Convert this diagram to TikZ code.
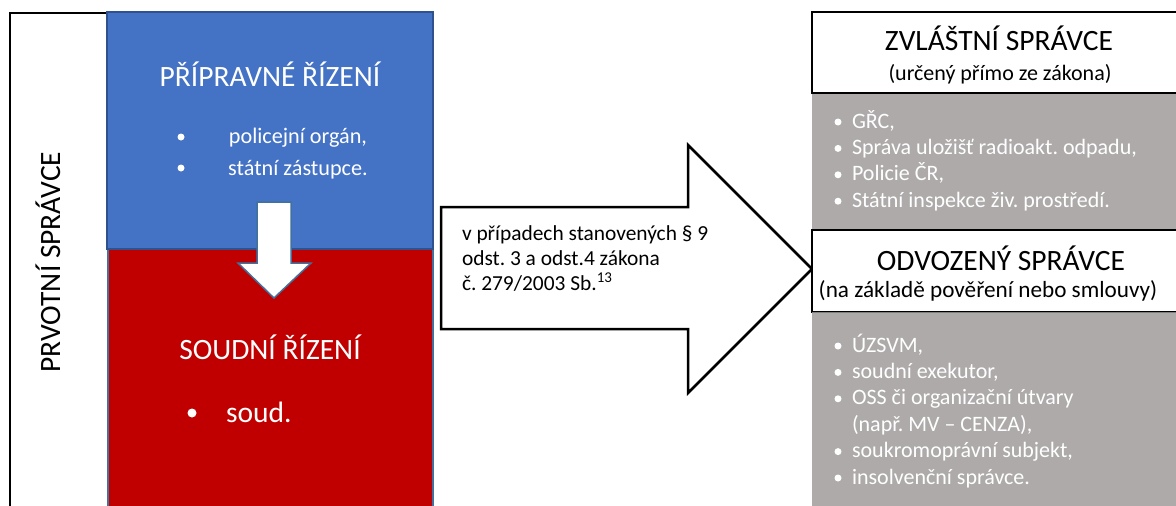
\documentclass[tikz,border=0pt]{standalone}
\usepackage{fontspec}
\setmainfont{Carlito}
\frenchspacing
\definecolor{bluebox}{RGB}{68,114,196}
\definecolor{blueedge}{RGB}{47,82,143}
\definecolor{slate}{RGB}{65,113,156}
\definecolor{redbox}{RGB}{192,0,0}
\definecolor{greybox}{RGB}{174,170,170}
\definecolor{greyedge}{RGB}{127,127,127}
\tikzset{
  txt/.style={inner sep=0pt, outer sep=0pt},
  head/.style={txt, font=\fontsize{29.5pt}{35pt}\selectfont},
  sub/.style={txt, font=\fontsize{22pt}{26pt}\selectfont},
  item/.style={txt, font=\fontsize{22pt}{26pt}\selectfont, text=white, anchor=base west},
  bul/.style={circle, fill=white, inner sep=0pt, minimum size=7pt},
  bigbul/.style={circle, fill=white, inner sep=0pt, minimum size=9pt},
  midtxt/.style={txt, font=\fontsize{21.4pt}{25pt}\selectfont, anchor=base west},
}
\begin{document}
\begin{tikzpicture}[x=1pt,y=-1pt]
\useasboundingbox (0,0) rectangle (1176,506);
% left frame
\draw[greyedge, line width=1pt] (107,13) -- (107,520);
\draw[black, line width=2pt] (10,520) -- (10,13) -- (107,13);
\node[head, rotate=90, anchor=base] (prv) at (60,262) {PRVOTNÍ SPRÁVCE};
% red and blue boxes
\draw[slate, line width=2pt, fill=redbox] (108,249) rectangle (433,520);
\draw[blueedge, line width=1.5pt, fill=bluebox] (107,12) rectangle (433,249);
% down arrow
\draw[slate, line width=1.5pt, fill=white]
  (257,202) -- (291,202) -- (291,263) -- (311,263) -- (274,298) -- (238,263) -- (257,263) -- cycle;
\node[head, text=white, anchor=base] (prip) at (270,86) {PŘÍPRAVNÉ ŘÍZENÍ};
\node[bul] (bp1) at (181,137) {};
\node[txt, font=\fontsize{22.2pt}{27pt}\selectfont, text=white, anchor=base] (pol) at (298,143) {policejní orgán,};
\node[bul] (bp2) at (181,168) {};
\node[txt, font=\fontsize{22.2pt}{27pt}\selectfont, text=white, anchor=base] (stz) at (298,175) {státní zástupce.};
\node[head, text=white, anchor=base] (soudr) at (270,359) {SOUDNÍ ŘÍZENÍ};
\node[bigbul] (bs) at (192,413) {};
\node[head, text=white, anchor=base west] (soud) at (226,422) {soud.};
% big arrow
\draw[black, line width=2.5pt, fill=white, line join=miter]
  (441,207) -- (688,207) -- (688,145) -- (812,269) -- (688,393) -- (688,329) -- (441,329) -- cycle;
\node[midtxt] (m1) at (462,240) {v případech stanovených § 9};
\node[midtxt] (m2) at (462,265) {odst. 3 a odst.4 zákona};
\node[midtxt] (m3) at (462,290) {č. 279/2003 Sb.\textsuperscript{13}};
% right upper
\fill[greybox] (812,93) rectangle (1180,230);
\draw[greyedge, line width=0.8pt] (812,93) -- (1180,93);
\draw[black, line width=1.3pt, fill=white] (1180,12) -- (812,12) -- (812,93) -- (1180,93);
\node[head, anchor=base] (zv) at (999,50) {ZVLÁŠTNÍ SPRÁVCE};
\node[sub, anchor=base] (zvs) at (1000,80) {(určený přímo ze zákona)};
\foreach \y/\t [count=\i] in {128/{GŘC,}, 154.4/{Správa uložišť radioakt. odpadu,}, 180.8/{Policie ČR,}, 207.2/{Státní inspekce živ. prostředí.}} {
  \node[bul] (zb\i) at (838,\y-6) {};
  \node[item] (zi\i) at (852,\y) {\t};
}
% right lower
\fill[greybox] (812,312) rectangle (1180,520);
\draw[black, line width=1.3pt, fill=white] (1180,230) -- (812,230) -- (812,312) -- (1180,312);
\draw[greyedge, line width=1pt] (812,312) -- (1180,312);
\node[head, anchor=base] (od) at (1001,270) {ODVOZENÝ SPRÁVCE};
\node[txt, font=\fontsize{23.2pt}{27pt}\selectfont, anchor=base] (ods) at (988,297) {(na základě pověření nebo smlouvy)};
\foreach \y/\t [count=\i] in {352/{ÚZSVM,}, 378.4/{soudní exekutor,}, 404.8/{OSS či organizační útvary}, 457.6/{soukromoprávní subjekt,}, 484/{insolvenční správce.}} {
  \node[bul] (ob\i) at (838,\y-6) {};
  \node[item] (oi\i) at (852,\y) {\t};
}
\node[item] (oi6) at (852,431.2) {(např. MV – CENZA),};
\end{tikzpicture}
\end{document}
